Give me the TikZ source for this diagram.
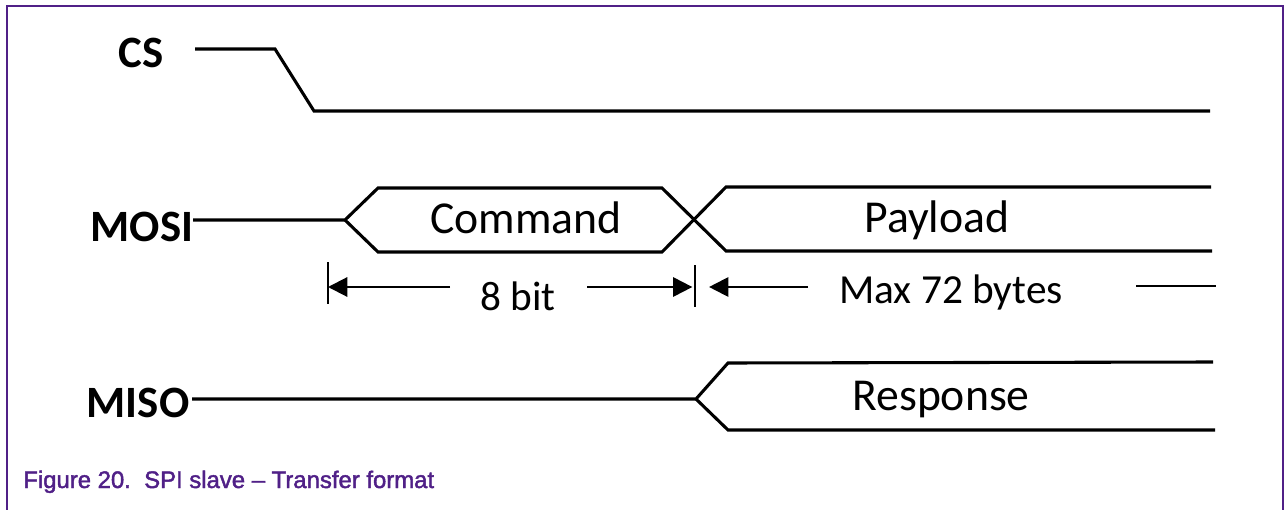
\documentclass[tikz,border=0pt]{standalone}
\usepackage{fontspec}
\setmainfont{Carlito}
\newfontfamily\capfont[FakeBold=1.8]{Liberation Sans}
\usetikzlibrary{arrows.meta}
\definecolor{figpurple}{RGB}{80,32,135}

\begin{document}
\begin{tikzpicture}[x=0.02cm, y=-0.02cm,
    wave/.style={line width=1.75pt, line join=miter},
    dim/.style={line width=1.2pt},
    dimarrow/.style={dim, -{Triangle[length=11pt,width=11pt]}},
    signame/.style={inner sep=0pt, anchor=base, font=\fontsize{25.5}{26}\selectfont\bfseries},
    field/.style={inner sep=0pt, anchor=base, font=\fontsize{26}{26}\selectfont},
    dimtext/.style={inner sep=0pt, anchor=base, font=\fontsize{23.5}{24}\selectfont}]
    \useasboundingbox (0,0) rectangle (1285,510);

    % Frame
    \draw [figpurple, line width=1.5pt] (7,510) -- (7,6) -- (1283,6) -- (1283,510);

    % Nodes {signal names, field names}
    \node [signame] (cs)       at (141,68)  {CS};
    \node [signame] (mosi)     at (142,241) {MOSI};
    \node [signame] (miso)     at (138,417) {MISO};
    \node [field]   (command)  at (526,234) {Command};
    \node [field]   (payload)  at (937,232) {Payload};
    \node [field]   (response) at (941,410) {Response};
    \node [dimtext] (bits)     at (518,310) {8 bit};
    \node [dimtext] (bytes)    at (951,303) {Max 72 bytes};

    % Waveform corners
    \coordinate (cs0)  at (195,49);
    \coordinate (cs1)  at (275,49);
    \coordinate (cs2)  at (314,111);
    \coordinate (cs3)  at (1210,111);

    \coordinate (mo0)  at (193,220);
    \coordinate (mo1)  at (345,220);
    \coordinate (cmdT) at (378,188);
    \coordinate (cmdB) at (378,252);
    \coordinate (cmdTR) at (662,188);
    \coordinate (cmdBR) at (662,252);
    \coordinate (pldT) at (726,187);
    \coordinate (pldB) at (726,251);
    \coordinate (pldTE) at (1211,187);
    \coordinate (pldBE) at (1212,251);

    \coordinate (mi0)  at (192,399);
    \coordinate (mi1)  at (696,399);
    \coordinate (rspT) at (728,363);
    \coordinate (rspB) at (728,430);
    \coordinate (rspTE) at (1213,362);
    \coordinate (rspBE) at (1215,430);

    % Paths
    \draw [wave] (cs0) -- (cs1) -- (cs2) -- (cs3);
    \draw [wave] (mo0) -- (mo1) -- (cmdT) -- (cmdTR) -- (pldB) -- (pldBE);
    \draw [wave] (mo1) -- (cmdB) -- (cmdBR) -- (pldT) -- (pldTE);
    \draw [wave] (mi0) -- (mi1) -- (rspT) -- (rspTE);
    \draw [wave] (mi1) -- (rspB) -- (rspBE);

    % Dimension lines
    \coordinate (tickA) at (328,287);
    \coordinate (tickB) at (695,287);
    \draw [dim] (328,262) -- (328,304);
    \draw [dim] (695,265) -- (695,307);
    \draw [dimarrow] (450,287) -- (tickA);
    \draw [dimarrow] (587,287) -- ([xshift=-1.5]tickB);
    \draw [dimarrow] (808,287) -- ([xshift=8]tickB);
    \coordinate (tailA) at (1136,286);
    \coordinate (tailB) at (1216,286);
    \draw [dim] (tailA) -- (tailB);

    % Caption
    \node [inner sep=0pt, anchor=base west, text=figpurple,
           font=\capfont\fontsize{13.6}{14}\selectfont] (caption) at (23,488)
          {Figure 20.\ \ SPI slave – Transfer format};
\end{tikzpicture}
\end{document}
